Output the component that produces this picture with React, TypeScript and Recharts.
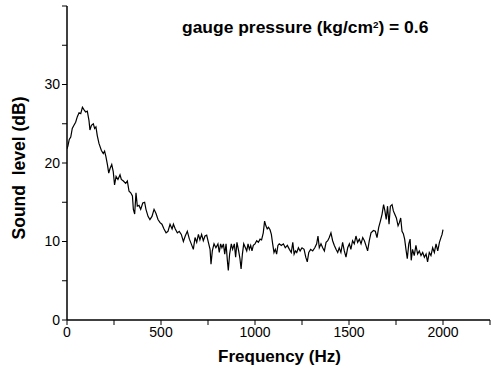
import React from 'react';
import { LineChart, Line, XAxis, YAxis, Label } from 'recharts';

const frequencies: number[] = [
  0, 5, 12, 20, 28, 37, 46, 55, 64, 73, 82, 90, 99, 108, 117, 122, 130, 140, 147, 154,
  161, 170, 183, 193, 200, 207, 215, 222, 229, 238, 246, 253, 261, 271, 282, 289, 300, 312, 321, 330,
  339, 348, 353, 360, 367, 374, 383, 392, 403, 413, 420, 431, 441, 452, 463, 473, 484, 495, 505, 516,
  527, 537, 548, 559, 566, 576, 587, 597, 608, 619, 629, 640, 651, 661, 672, 681, 690, 699, 707, 716,
  725, 734, 743, 752, 761, 766, 773, 782, 792, 803, 810, 817, 824, 832, 839, 846, 853, 858, 865, 874,
  881, 890, 897, 904, 913, 920, 926, 933, 940, 949, 956, 963, 970, 977, 984, 991, 1000, 1009, 1018, 1027,
  1035, 1044, 1051, 1058, 1065, 1072, 1080, 1087, 1094, 1101, 1108, 1115, 1122, 1129, 1140, 1151, 1161, 1172, 1183, 1193,
  1201, 1208, 1215, 1222, 1231, 1240, 1250, 1261, 1270, 1278, 1286, 1296, 1307, 1318, 1328, 1335, 1342, 1351, 1360, 1369,
  1378, 1387, 1395, 1404, 1413, 1422, 1431, 1440, 1448, 1457, 1466, 1475, 1484, 1493, 1502, 1510, 1519, 1528, 1537, 1546,
  1555, 1564, 1573, 1582, 1590, 1599, 1608, 1617, 1630, 1640, 1649, 1658, 1667, 1676, 1684, 1691, 1698, 1705, 1713, 1720,
  1729, 1736, 1743, 1752, 1761, 1768, 1775, 1782, 1789, 1796, 1803, 1810, 1818, 1825, 1831, 1838, 1847, 1856, 1865, 1874,
  1883, 1892, 1901, 1910, 1918, 1927, 1936, 1945, 1954, 1963, 1972, 1981, 1989, 1995, 2000,
];

const soundLevels: number[] = [
  21.8, 22.2, 23.0, 23.3, 24.4, 24.8, 25.2, 25.9, 26.4, 26.3, 27.1, 26.8, 26.5, 26.6, 25.4, 24.2, 24.8, 25.0, 24.4, 24.6,
  23.5, 22.5, 21.6, 21.2, 21.5, 20.8, 19.8, 18.7, 19.3, 19.8, 18.9, 17.2, 18.3, 17.9, 18.5, 17.9, 17.7, 17.4, 17.7, 16.4,
  16.2, 15.8, 14.1, 13.5, 16.2, 14.5, 14.6, 14.1, 14.9, 15.0, 14.1, 13.2, 12.8, 13.2, 14.1, 13.6, 12.8, 12.4, 12.2, 11.6,
  11.1, 11.3, 12.2, 11.6, 12.2, 11.6, 11.1, 11.3, 10.9, 10.0, 10.7, 11.3, 10.3, 9.7, 9.0, 10.5, 9.9, 10.9, 10.2, 10.9,
  10.1, 10.7, 10.8, 9.9, 9.0, 7.1, 8.8, 9.7, 9.2, 9.7, 8.6, 9.7, 9.2, 9.7, 8.4, 9.7, 7.6, 6.3, 8.4, 9.7,
  9.0, 9.7, 8.0, 9.9, 8.8, 7.8, 6.5, 8.4, 9.7, 9.2, 8.8, 9.7, 9.0, 9.5, 8.8, 9.5, 9.7, 10.1, 9.9, 10.3,
  10.2, 11.1, 12.6, 12.0, 11.6, 11.8, 11.5, 10.9, 9.7, 8.6, 9.0, 8.4, 9.5, 9.7, 9.5, 9.7, 9.2, 9.5, 9.0, 8.6,
  9.9, 8.4, 8.8, 8.6, 9.2, 8.8, 9.2, 9.0, 8.0, 7.4, 8.6, 9.0, 8.8, 9.2, 9.7, 10.7, 9.2, 9.7, 9.2, 8.8,
  9.9, 10.1, 10.5, 11.1, 10.1, 9.5, 9.0, 8.6, 9.2, 8.6, 9.9, 8.8, 8.0, 9.2, 9.7, 9.0, 10.1, 9.7, 10.7, 9.9,
  10.3, 9.7, 10.5, 10.1, 9.5, 8.8, 10.1, 11.1, 11.4, 11.3, 10.5, 11.8, 12.6, 13.5, 14.7, 13.9, 12.8, 14.5, 12.2, 14.5,
  14.7, 13.9, 13.5, 13.0, 12.0, 12.4, 13.0, 11.3, 11.0, 10.3, 9.0, 7.8, 9.7, 10.3, 7.6, 9.0, 8.2, 9.5, 8.4, 8.8,
  8.2, 8.6, 8.0, 8.4, 7.4, 8.6, 8.2, 9.2, 8.6, 9.7, 8.8, 9.9, 10.5, 10.9, 11.5,
];

const xTicks: number[] = [0, 250, 500, 750, 1000, 1250, 1500, 1750, 2000, 2250];
const xLabelled: number[] = [0, 500, 1000, 1500, 2000];
const yTicks: number[] = [0, 5, 10, 15, 20, 25, 30, 35, 40];
const yLabelled: number[] = [0, 10, 20, 30];

const data = frequencies.map((f, i) => ({ f, level: soundLevels[i] }));

const FONT = '"Liberation Sans", Arial, Helvetica, sans-serif';

const XTitle = (props: any) => {
  const vb = props.viewBox || {};
  const cx = vb.x + vb.width / 2 + 1;
  return (
    <text x={cx} y={vb.y + 42} textAnchor="middle" fontFamily={FONT} fontWeight="bold" fontSize={17} fill="#000">
      Frequency (Hz)
    </text>
  );
};

const YTitle = (props: any) => {
  const vb = props.viewBox || {};
  const x = 24.5;
  const y = vb.y + vb.height / 2 + 5;
  return (
    <text
      x={x}
      y={y}
      transform={`rotate(-90, ${x}, ${y})`}
      textAnchor="middle"
      fontFamily={FONT}
      fontWeight="bold"
      fontSize={17.5}
      fill="#000"
      style={{ whiteSpace: 'pre' }}
    >
      {'Sound  level (dB)'}
    </text>
  );
};

export default function App() {
  return (
    <div style={{ position: 'absolute', left: 0, top: 0, width: 491, height: 373, background: '#fff' }}>
      <LineChart width={491} height={373} data={data} margin={{ top: 6, right: 1, bottom: 0, left: 0 }}>
        <XAxis
          dataKey="f"
          type="number"
          domain={[0, 2250]}
          ticks={xTicks}
          tickFormatter={(v: number) => (xLabelled.includes(v) ? String(v) : '')}
          height={53}
          stroke="#000"
          strokeWidth={1.5}
          tickSize={5}
          tickLine={{ stroke: '#000', strokeWidth: 1 }}
          tick={{ fill: '#000', fontSize: 14, fontFamily: FONT }}
          interval={0}
          allowDataOverflow
        >
          <Label content={<XTitle />} />
        </XAxis>
        <YAxis
          type="number"
          domain={[0, 40]}
          ticks={yTicks}
          tickFormatter={(v: number) => (yLabelled.includes(v) ? String(v) : '')}
          width={67}
          stroke="#000"
          strokeWidth={1.5}
          tickSize={5}
          tickLine={{ stroke: '#000', strokeWidth: 1 }}
          tick={{ fill: '#000', fontSize: 14, fontFamily: FONT }}
          interval={0}
          allowDataOverflow
        >
          <Label content={<YTitle />} />
        </YAxis>
        <Line
          type="linear"
          dataKey="level"
          stroke="#000"
          strokeWidth={1.2}
          dot={false}
          isAnimationActive={false}
        />
      </LineChart>
      <div
        style={{
          position: 'absolute',
          left: 182,
          top: 19.5,
          fontFamily: FONT,
          fontWeight: 'bold',
          fontSize: 16,
          lineHeight: '16px',
          whiteSpace: 'nowrap',
          color: '#000',
          transform: 'scaleX(1.09)',
          transformOrigin: '0 0',
        }}
      >
        gauge pressure (kg/cm<sup style={{ fontSize: 9, verticalAlign: 'top', lineHeight: '9px', position: 'relative', top: 1 }}>2</sup>) = 0.6
      </div>
    </div>
  );
}
